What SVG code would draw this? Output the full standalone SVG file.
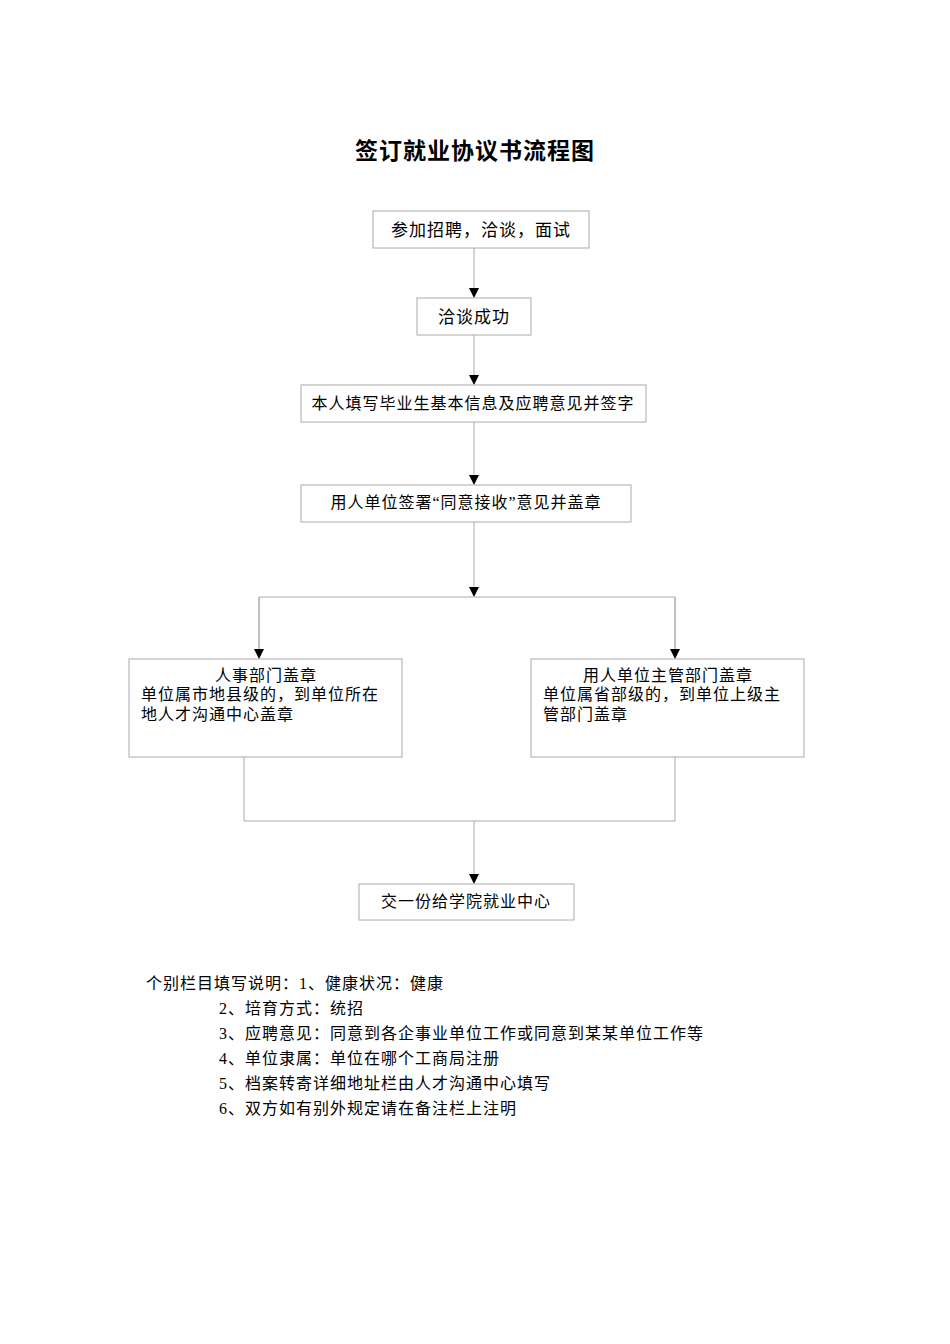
<svg xmlns="http://www.w3.org/2000/svg" width="950" height="1344" viewBox="0 0 950 1344">
<style>
text{font-family:"Liberation Serif","Noto Sans CJK SC",serif;fill:#000}
.b{fill:#fff;stroke:#aaa;stroke-width:1}
.c{fill:none;stroke:#aaa;stroke-width:1}
.t{font-size:16px;letter-spacing:1px}
.m{text-anchor:middle}
</style>
<defs><marker id="a" markerWidth="10" markerHeight="10" refX="9" refY="5" orient="auto" markerUnits="userSpaceOnUse"><path d="M0,0 L10,5 L0,10 Z" fill="#000"/></marker></defs>
<rect width="950" height="1344" fill="#fff"/>
<text x="475" y="159" class="m" style="font-size:23px;font-weight:bold;letter-spacing:1px">签订就业协议书流程图</text>
<g id="connectors">
<path class="c" d="M474,248 V297" marker-end="url(#a)"/>
<path class="c" d="M474,335 V384" marker-end="url(#a)"/>
<path class="c" d="M474,422 V484" marker-end="url(#a)"/>
<path class="c" d="M474,522 V596" marker-end="url(#a)"/>
<path class="c" d="M259,658 V597 H675 V658"/>
<path class="c" d="M259,597 V658" marker-end="url(#a)"/>
<path class="c" d="M675,597 V658" marker-end="url(#a)"/>
<path class="c" d="M244,757 V821 H675 V757"/>
<path class="c" d="M474,821 V883" marker-end="url(#a)"/>
</g>
<g id="n1"><rect class="b" x="373" y="211" width="216" height="37"/><text x="481" y="236" class="t m" style="font-size:17px">参加招聘，洽谈，面试</text></g>
<g id="n2"><rect class="b" x="417" y="298" width="114" height="37"/><text x="474" y="323" class="t m" style="font-size:17px">洽谈成功</text></g>
<g id="n3"><rect class="b" x="301" y="385" width="345" height="37"/><text x="473" y="409" class="t m">本人填写毕业生基本信息及应聘意见并签字</text></g>
<g id="n4"><rect class="b" x="301" y="485" width="330" height="37"/><text x="466" y="508" class="t m">用人单位签署“同意接收”意见并盖章</text></g>
<g id="n5"><rect class="b" x="129" y="659" width="273" height="98"/><text class="t"><tspan x="266" y="681" text-anchor="middle">人事部门盖章</tspan><tspan x="141" y="700">单位属市地县级的，到单位所在</tspan><tspan x="141" y="720">地人才沟通中心盖章</tspan></text></g>
<g id="n6"><rect class="b" x="531" y="659" width="273" height="98"/><text class="t"><tspan x="668" y="681" text-anchor="middle">用人单位主管部门盖章</tspan><tspan x="543" y="700">单位属省部级的，到单位上级主</tspan><tspan x="543" y="720">管部门盖章</tspan></text></g>
<g id="n7"><rect class="b" x="359" y="884" width="215" height="36"/><text x="466" y="907" class="t m">交一份给学院就业中心</text></g>
<g id="notes" class="t">
<text x="146" y="989">个别栏目填写说明：1、健康状况：健康</text>
<text x="219" y="1014">2、培育方式：统招</text>
<text x="219" y="1039">3、应聘意见：同意到各企事业单位工作或同意到某某单位工作等</text>
<text x="219" y="1064">4、单位隶属：单位在哪个工商局注册</text>
<text x="219" y="1089">5、档案转寄详细地址栏由人才沟通中心填写</text>
<text x="219" y="1114">6、双方如有别外规定请在备注栏上注明</text>
</g>
</svg>
